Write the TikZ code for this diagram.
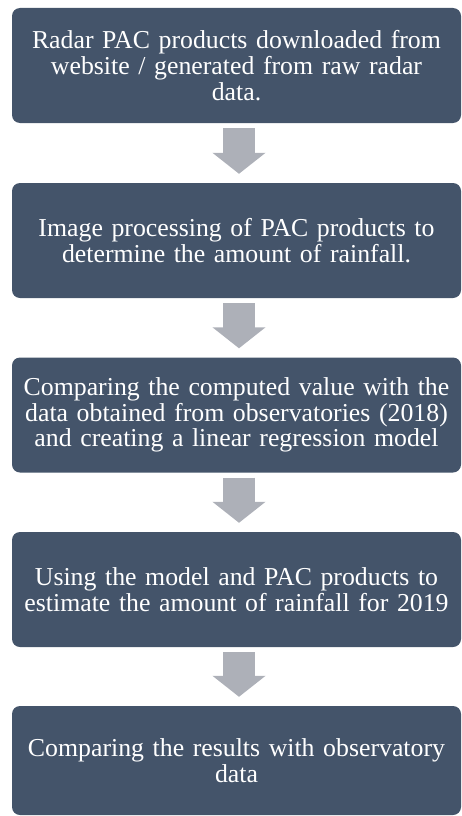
\documentclass[tikz,border=0pt]{standalone}
\usepackage{fontspec}
\setmainfont{Liberation Serif}
\usepackage{tikz}
\usetikzlibrary{arrows.meta}

\definecolor{boxblue}{HTML}{44546A}
\definecolor{arrowgray}{HTML}{ADB0B8}

\begin{document}
\begin{tikzpicture}[x=1pt,y=1pt]
	\tikzstyle{box}=[rectangle,rounded corners=8pt,fill=boxblue,text=white,minimum width=449pt,minimum height=115pt,text width=440pt,align=center,inner sep=0pt,font=\fontsize{25.8}{25.6}\selectfont]
	\tikzstyle{flow}=[arrowgray,line width=32pt,-{Triangle[length=21pt,width=52pt]},shorten <=5pt,shorten >=9pt]
	\useasboundingbox (0,0) rectangle (462,-816);
	\node (step1) at (236.5,-65.5) [box] {Radar PAC products downloaded from\\website / generated from raw radar\\data.};
	\node (step2) at (236.5,-240.5) [box] {Image processing of PAC products to\\determine the amount of rainfall.};
	\node (step3) at (236.5,-415) [box] {Comparing the computed value with the\\data obtained from observatories (2018)\\and creating a linear regression model};
	\node (step4) at (236.5,-589.5) [box] {Using the model and PAC products to\\estimate the amount of rainfall for 2019};
	\node (step5) at (236.5,-760.5) [box,minimum height=109pt] {Comparing the results with observatory\\data};
	\draw [flow] ([xshift=2.5pt]step1.south) -- ([xshift=2.5pt]step2.north);
	\draw [flow] ([xshift=2.5pt]step2.south) -- ([xshift=2.5pt]step3.north);
	\draw [flow] ([xshift=2.5pt]step3.south) -- ([xshift=2.5pt]step4.north);
	\draw [flow] ([xshift=2.5pt]step4.south) -- ([xshift=2.5pt]step5.north);
\end{tikzpicture}
\end{document}
